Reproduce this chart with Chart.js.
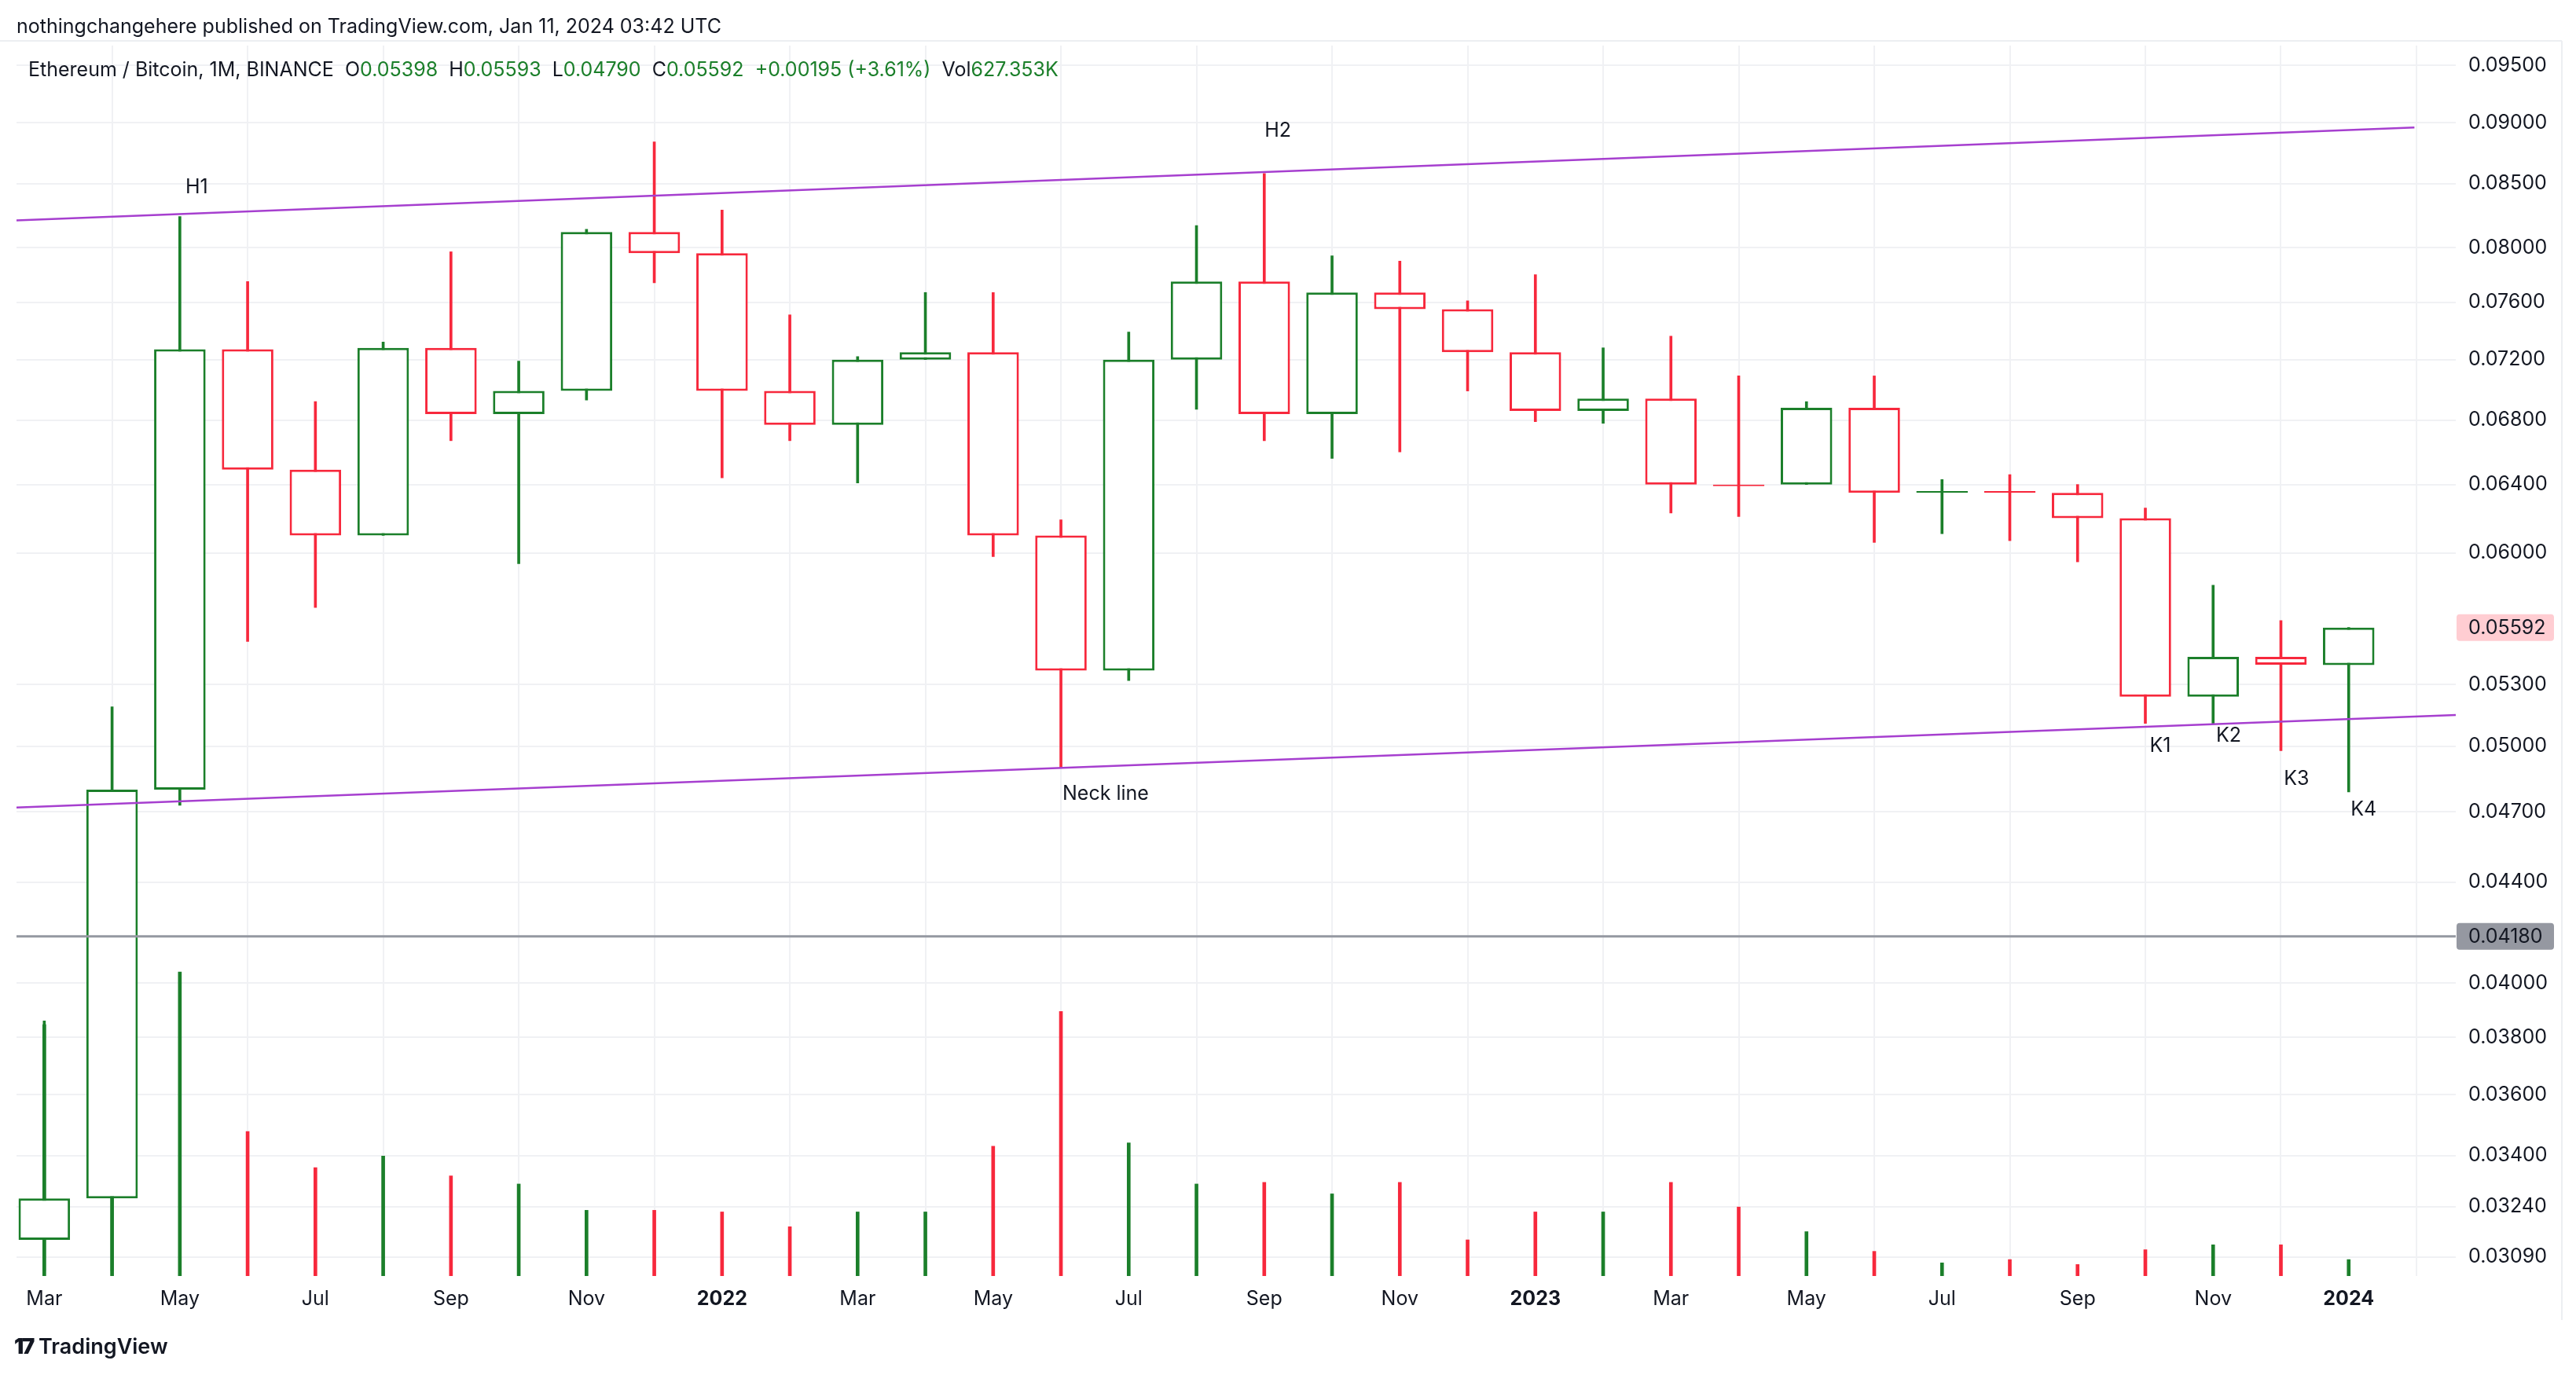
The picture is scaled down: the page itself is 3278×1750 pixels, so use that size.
<!DOCTYPE html>
<html><head><meta charset="utf-8">
<script src="https://cdn.jsdelivr.net/npm/chart.js@4.4.0/dist/chart.umd.min.js"></script>
<style>
html,body{margin:0;padding:0;background:#fff;font-family:Inter,"Noto Sans",sans-serif;}
#wrap{position:relative;width:3278px;height:1750px;}
canvas{position:absolute;left:0;top:0;}
.t{position:absolute;white-space:pre;color:#131722;}
</style></head><body>
<div id="wrap">
<canvas id="c" width="3278" height="1750"></canvas>
<div class="t" style="left:21px;top:18px;font-size:25px;">nothingchangehere published on TradingView.com, Jan 11, 2024 03:42 UTC</div>
<div class="t" style="left:36px;top:73px;font-size:25px;">Ethereum / Bitcoin, 1M, BINANCE  O<span style="color:#1b7f2a">0.05398</span>  H<span style="color:#1b7f2a">0.05593</span>  L<span style="color:#1b7f2a">0.04790</span>  C<span style="color:#1b7f2a">0.05592</span>  <span style="color:#1b7f2a">+0.00195 (+3.61%)</span>  Vol<span style="color:#1b7f2a">627.353K</span></div>
<div class="t" style="left:18px;top:1697px;font-size:27px;font-weight:600;"><span style="font-weight:900;letter-spacing:-2px">17</span> TradingView</div>
</div>
<script>
const months = ['Jan','Feb','Mar','Apr','May','Jun','Jul','Aug','Sep','Oct','Nov','Dec'];
// Mar 2021 .. Jan 2024
const opens  = [0.0314,0.03265,0.0480,0.0727,0.0649,0.0610,0.0728,0.0684,0.0699,0.0812,0.0796,0.0699,0.0677,0.0720,0.0725,0.0610,0.0537,0.0720,0.0775,0.0684,0.0767,0.0755,0.0725,0.0686,0.0694,0.0640,0.0640,0.0688,0.0635,0.0636,0.0635,0.0620,0.0524,0.0544,0.05398];
const highs  = [0.0386,0.0519,0.0824,0.0775,0.0692,0.0732,0.0797,0.0719,0.0814,0.0884,0.0829,0.0751,0.0722,0.0767,0.0767,0.0619,0.0739,0.0817,0.0858,0.0794,0.0790,0.0761,0.0780,0.0728,0.0736,0.0709,0.0692,0.0709,0.0643,0.0646,0.0640,0.0626,0.0582,0.0563,0.05593];
const lows   = [0.0305,0.0305,0.0473,0.0552,0.0570,0.0610,0.0667,0.0594,0.0693,0.0774,0.0644,0.0667,0.0641,0.0720,0.0598,0.0490,0.0532,0.0687,0.0667,0.0656,0.0660,0.0699,0.0679,0.0678,0.0623,0.0621,0.0640,0.0606,0.0611,0.0607,0.0595,0.0511,0.0511,0.0498,0.04790];
const closes = [0.03265,0.0480,0.0727,0.0649,0.0610,0.0728,0.0684,0.0699,0.0812,0.0796,0.0699,0.0677,0.0720,0.0725,0.0610,0.0537,0.0720,0.0775,0.0684,0.0767,0.0755,0.0725,0.0686,0.0694,0.0640,0.0639,0.0688,0.0635,0.0636,0.0635,0.0620,0.0524,0.0544,0.0540,0.05592];
const volumes = [153,141,185,88,66,73,61,56,40,40,39,30,39,39,79,161,81,56,57,50,57,22,39,39,57,42,27,15,8,10,7,16,19,19,10];
const priceTicks = [0.095,0.09,0.085,0.08,0.076,0.072,0.068,0.064,0.06,0.053,0.05,0.047,0.044,0.04,0.038,0.036,0.034,0.0324,0.0309];
const upperLine = [{x:-0.41,y:0.0821},{x:34.97,y:0.0896}];
const neckLine  = [{x:-0.41,y:0.0472},{x:35.58,y:0.0515}];
const notes = [{t:'H1',x:2.25,y:0.0847},{t:'H2',x:18.2,y:0.0893},{t:'Neck line',x:15.66,y:0.0478},{t:'K1',x:31.22,y:0.0500},{t:'K2',x:32.23,y:0.0505},{t:'K3',x:33.23,y:0.0485},{t:'K4',x:34.22,y:0.0471}];
const lastPrice = 0.05592, hLine = 0.0418;

const GREEN='#1b7f2a', RED='#f7283c';
const col = opens.map((o,i)=> closes[i]>=o ? GREEN : RED);
const bodies = opens.map((o,i)=>({x:i,y:[Math.min(o,closes[i]),Math.max(o,closes[i])]}));
const wicks = opens.map((o,i)=>({x:i,y:[lows[i],highs[i]]}));
const vols = volumes.map((v,i)=>({x:i,y:v}));

const overlay = {
  id:'overlay',
  afterDatasetsDraw(chart){
    const ctx=chart.ctx, xs=chart.scales.x, ys=chart.scales.y, a=chart.chartArea;
    ctx.save();
    const hy=ys.getPixelForValue(hLine);
    ctx.strokeStyle='#9598a1'; ctx.lineWidth=3;
    ctx.beginPath(); ctx.moveTo(a.left,hy); ctx.lineTo(a.right,hy); ctx.stroke();
    ctx.fillStyle='#131722'; ctx.font='25px Inter, "Noto Sans", sans-serif';
    ctx.textAlign='center'; ctx.textBaseline='middle';
    notes.forEach(n=>ctx.fillText(n.t, xs.getPixelForValue(n.x), ys.getPixelForValue(n.y)));
    const boxes=[{v:lastPrice,bg:'#ffcdd2'},{v:hLine,bg:'#9598a1'}];
    boxes.forEach(b=>{
      const y=ys.getPixelForValue(b.v);
      ctx.fillStyle=b.bg; ctx.beginPath();
      ctx.roundRect(a.right+1,y-17,124,34,4); ctx.fill();
      ctx.fillStyle='#131722'; ctx.textAlign='left';
      ctx.fillText(b.v.toFixed(5), a.right+16, y+1);
    });
    ctx.strokeStyle='#eceef2'; ctx.lineWidth=2;
    ctx.beginPath(); ctx.moveTo(3260,52); ctx.lineTo(3260,1680); ctx.stroke();
    ctx.beginPath(); ctx.moveTo(0,52); ctx.lineTo(3260,52); ctx.stroke();
    ctx.restore();
  }
};

new Chart(document.getElementById('c'),{
  type:'bar',
  data:{datasets:[
    {type:'line',data:upperLine,borderColor:'#a63fcf',borderWidth:2.5,pointRadius:0,order:-1,yAxisID:'y'},
    {type:'line',data:neckLine,borderColor:'#a63fcf',borderWidth:2.5,pointRadius:0,order:-1,yAxisID:'y'},
    {data:bodies,backgroundColor:'#ffffff',borderColor:col,borderWidth:3,borderSkipped:false,grouped:false,barPercentage:0.76,categoryPercentage:1,order:0,yAxisID:'y'},
    {data:wicks,backgroundColor:col,borderWidth:0,grouped:false,barThickness:3,order:1,yAxisID:'y'},
    {data:vols,backgroundColor:col,borderWidth:0,grouped:false,barThickness:4,order:2,yAxisID:'yv'}
  ]},
  options:{
    responsive:false,animation:false,
    layout:{padding:{left:21,right:33,top:58,bottom:0}},
    plugins:{legend:{display:false},tooltip:{enabled:false}},
    scales:{
      x:{type:'linear',min:-0.41,max:35.58,offset:false,
        afterBuildTicks(s){s.ticks=[];for(let i=0;i<=34;i+=2)s.ticks.push({value:i});},
        afterFit(s){s.height=126;},
        grid:{color:'#f0f1f4',lineWidth:2,drawTicks:false},border:{display:false},
        ticks:{padding:14,color:'#131722',maxRotation:0,autoSkip:false,
          font:(c)=>{const i=c.tick?c.tick.value:0;const m=(2+i)%12;return {size:25,family:'Inter',weight:m===0?'bold':'normal'};},
          callback(v){const m=(2+v)%12;const y=2021+Math.floor((2+v)/12);return m===0?String(y):months[m];}}},
      y:{type:'logarithmic',position:'right',min:0.03035,max:0.0968,
        afterBuildTicks(s){s.ticks=priceTicks.map(v=>({value:v}));},
        afterFit(s){s.width=120;},
        grid:{color:'#f0f1f4',lineWidth:2,drawTicks:false},border:{display:false},
        ticks:{padding:16,color:'#131722',font:{size:25,family:'Inter'},callback:v=>Number(v).toFixed(5)}},
      yv:{type:'linear',display:false,min:0,max:749}
    }
  },
  plugins:[overlay]
});
</script></body></html>
